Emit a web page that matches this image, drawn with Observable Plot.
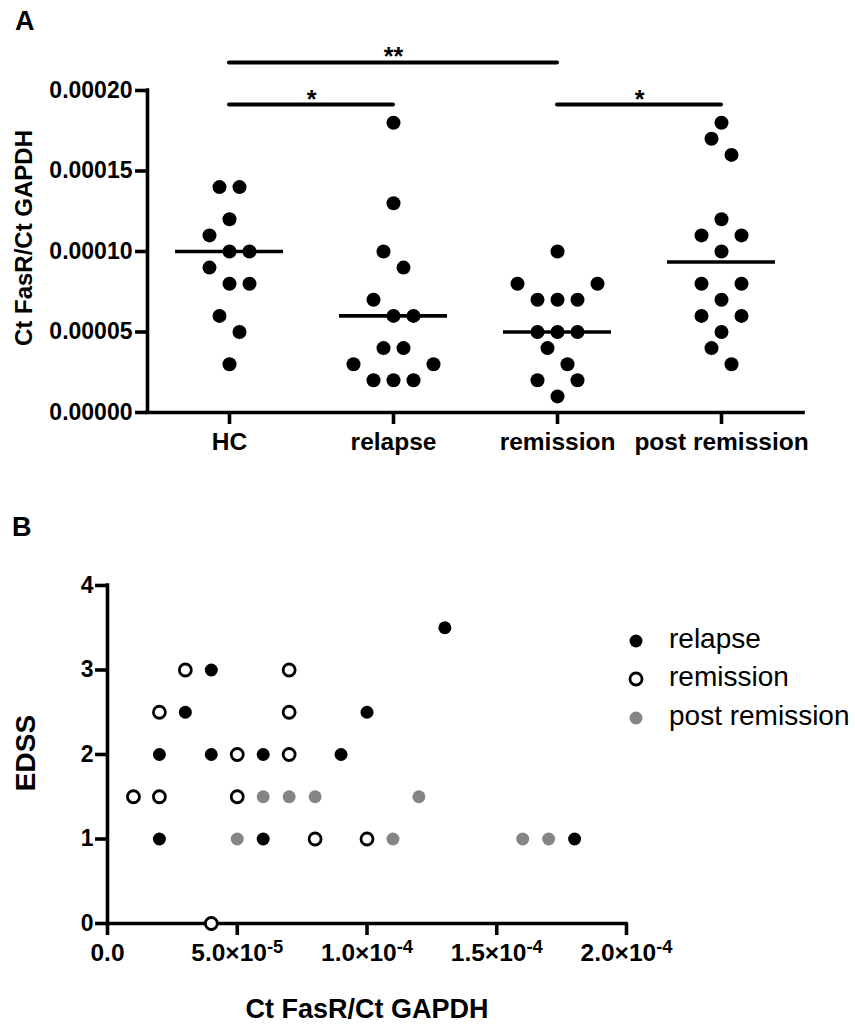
<!DOCTYPE html>
<html><head><meta charset="utf-8">
<script src="https://cdn.jsdelivr.net/npm/d3@7"></script>
<script src="https://cdn.jsdelivr.net/npm/@observablehq/plot@0.6"></script>
<style>
body{margin:0;background:#fff;}
#root{position:relative;width:855px;height:1031px;font-family:"Liberation Sans",Arial,Helvetica,sans-serif;color:#000;overflow:hidden;background:#fff}
.abs{position:absolute;line-height:1;white-space:nowrap}
.panel{position:absolute;left:0}
</style></head><body><div id="root"></div>
<script>
// ---------- Panel A data ----------
const groups = ["HC", "relapse", "remission", "post remission"];
const hcValues = [0.00014, 0.00014, 0.00012, 0.00011, 0.00010, 0.00010, 0.00009, 0.00008, 0.00008, 0.00006, 0.00005, 0.00003];
const relapseValues = [0.00018, 0.00013, 0.00010, 0.00009, 0.00007, 0.00006, 0.00006, 0.00004, 0.00004, 0.00003, 0.00003, 0.00002, 0.00002, 0.00002];
const remissionValues = [0.00010, 0.00008, 0.00008, 0.00007, 0.00007, 0.00007, 0.00005, 0.00005, 0.00005, 0.00004, 0.00003, 0.00002, 0.00002, 0.00001];
const postRemissionValues = [0.00018, 0.00017, 0.00016, 0.00012, 0.00011, 0.00011, 0.00010, 0.00008, 0.00008, 0.00007, 0.00006, 0.00006, 0.00005, 0.00004, 0.00003];
const groupLines = [0.00010, 0.00006, 0.00005, 0.0000935];
const yTicksA = [0, 0.00005, 0.00010, 0.00015, 0.00020];
const comparisons = [
  {from: "HC", to: "remission", y: 0.0002174, label: "**"},
  {from: "HC", to: "relapse", y: 0.0001913, label: "*"},
  {from: "remission", to: "post remission", y: 0.0001913, label: "*"}
];

// ---------- Panel B data ----------
const edssSeries = ["relapse", "remission", "post remission"];
const relapseX = [0.00013, 0.00004, 0.00003, 0.00010, 0.00002, 0.00004, 0.00006, 0.00009, 0.00002, 0.00006, 0.00018];
const relapseY = [3.5, 3, 2.5, 2.5, 2, 2, 2, 2, 1, 1, 1];
const remissionX = [0.00003, 0.00007, 0.00002, 0.00007, 0.00005, 0.00007, 0.00001, 0.00002, 0.00005, 0.00008, 0.00010, 0.00004];
const remissionY = [3, 3, 2.5, 2.5, 2, 2, 1.5, 1.5, 1.5, 1, 1, 0];
const postX = [0.00006, 0.00007, 0.00008, 0.00012, 0.00005, 0.00011, 0.00016, 0.00017];
const postY = [1.5, 1.5, 1.5, 1.5, 1, 1, 1, 1];
const xTicksB = [0, 0.00005, 0.00010, 0.00015, 0.00020];
const yTicksB = [0, 1, 2, 3, 4];

// ---------- layout / style ----------
const FONT = '"Liberation Sans", Arial, Helvetica, sans-serif';
const W = 855;
const root = document.getElementById("root");
const LW = 3.6; // axis line width

// GraphPad-like scatter-dot arrangement: rows of nearby values, centred
function swarmSlots(values, rowSpan) {
  const idx = values.map((v, i) => i).sort((a, b) => values[a] - values[b]);
  const slots = new Array(values.length);
  let k = 0;
  while (k < idx.length) {
    const start = values[idx[k]];
    const row = [];
    while (k < idx.length && values[idx[k]] <= start + rowSpan + 1e-12) row.push(idx[k++]);
    const n = row.length;
    if (n % 2 === 1) {
      row.forEach((j, m) => { slots[j] = Math.ceil(m / 2) * (m % 2 ? 1 : -1); });
    } else {
      row.slice().reverse().forEach((j, m) => { slots[j] = m - (n - 1) / 2; });
    }
  }
  return slots;
}

// ---------- Panel A ----------
const mA = {left: 147, right: 52, top: 90, bottom: 68};
const hA = 480;
const stepA = (W - mA.left - mA.right) / groups.length;
const slotUnit = 20 / stepA;
const halfLine = 54 / stepA;
const seriesA = [hcValues, relapseValues, remissionValues, postRemissionValues];
const pointsA = seriesA.flatMap((vals, gi) => {
  const slots = swarmSlots(vals, 0.00001);
  return vals.map((v, j) => ({gi, value: v, pos: gi + slots[j] * slotUnit}));
});
const lineRows = groupLines.map((v, gi) => ({gi, value: v}));

const plotA = Plot.plot({
  width: W, height: hA,
  marginLeft: mA.left, marginRight: mA.right, marginTop: mA.top, marginBottom: mA.bottom,
  style: {fontFamily: FONT, fontSize: "23px", fontWeight: "bold", color: "#000", background: "transparent"},
  x: {type: "linear", domain: [-0.5, groups.length - 0.5]},
  y: {domain: [0, 0.0002]},
  marks: [
    Plot.axisY({ticks: yTicksA, tickFormat: d3.format(".5f"), tickSize: 12, tickPadding: 3, strokeWidth: LW, fontSize: 23, fontWeight: "bold", label: null}),
    Plot.axisX({ticks: groups.map((g, i) => i), tickFormat: i => groups[i], tickSize: 12, tickPadding: 8, strokeWidth: LW, fontSize: 24.5, fontWeight: "bold", label: null}),
    Plot.ruleX([-0.5], {strokeWidth: LW, strokeLinecap: "square"}),
    Plot.ruleY([0], {strokeWidth: LW, strokeLinecap: "square"}),
    Plot.ruleY(lineRows, {y: "value", x1: d => d.gi - halfLine, x2: d => d.gi + halfLine, strokeWidth: 3.6}),
    Plot.dot(pointsA, {x: "pos", y: "value", r: 7, fill: "#000", stroke: "none"}),
    Plot.ruleY(comparisons, {y: "y", x1: d => groups.indexOf(d.from), x2: d => groups.indexOf(d.to), strokeWidth: 4, strokeLinecap: "round"}),
    Plot.text(comparisons, {x: d => (groups.indexOf(d.from) + groups.indexOf(d.to)) / 2, y: "y", text: "label", dy: -5, fontSize: 25, fontWeight: "bold"})
  ]
});
plotA.classList.add("panel");
plotA.style.top = "0px";
root.appendChild(plotA);

// ---------- Panel B ----------
const topB = 500;
const hB = 531;
const pointsB = [
  ...relapseX.map((x, i) => ({series: edssSeries[0], x, y: relapseY[i]})),
  ...remissionX.map((x, i) => ({series: edssSeries[1], x, y: remissionY[i]})),
  ...postX.map((x, i) => ({series: edssSeries[2], x, y: postY[i]}))
];
function sciFormat(d) {
  if (d === 0) return "0.0";
  const [m, e] = d.toExponential(1).split("e");
  return m + "\u00d710^" + (+e);
}
const plotB = Plot.plot({
  width: W, height: hB,
  marginLeft: 107, marginRight: 229, marginTop: 85, marginBottom: 108,
  style: {fontFamily: FONT, fontSize: "23px", fontWeight: "bold", color: "#000", background: "transparent", overflow: "visible"},
  x: {domain: [0, 0.0002]},
  y: {domain: [0, 4]},
  marks: [
    Plot.axisY({ticks: yTicksB, tickFormat: d3.format("d"), tickSize: 12, tickPadding: 2, strokeWidth: LW, fontSize: 23, fontWeight: "bold", label: null}),
    Plot.axisX({ticks: xTicksB, tickFormat: sciFormat, tickSize: 12, tickPadding: 8, strokeWidth: LW, fontSize: 24.5, fontWeight: "bold", label: null}),
    Plot.ruleX([0], {strokeWidth: LW, strokeLinecap: "square"}),
    Plot.ruleY([0], {strokeWidth: LW, strokeLinecap: "square"}),
    Plot.dot(pointsB.filter(d => d.series === "relapse"), {x: "x", y: "y", r: 6.5, fill: "#000", stroke: "none"}),
    Plot.dot(pointsB.filter(d => d.series === "remission"), {x: "x", y: "y", r: 6, fill: "#fff", stroke: "#000", strokeWidth: 2.8}),
    Plot.dot(pointsB.filter(d => d.series === "post remission"), {x: "x", y: "y", r: 6.5, fill: "#858585", stroke: "none"})
  ]
});
plotB.classList.add("panel");
plotB.style.top = topB + "px";
root.appendChild(plotB);
// superscript exponents
plotB.querySelectorAll("text").forEach(t => {
  const s = t.textContent;
  const k = s.indexOf("^");
  if (k < 0) return;
  t.textContent = s.slice(0, k);
  const sup = document.createElementNS("http://www.w3.org/2000/svg", "tspan");
  sup.setAttribute("dy", "-0.45em");
  sup.setAttribute("font-size", "0.75em");
  sup.textContent = s.slice(k + 1);
  t.appendChild(sup);
});

// ---------- HTML labels ----------
function label(text, css) {
  const d = document.createElement("div");
  d.className = "abs";
  d.textContent = text;
  Object.assign(d.style, css);
  root.appendChild(d);
  return d;
}
label("A", {left: "15px", top: "8px", fontSize: "27px", fontWeight: "bold"});
label("B", {left: "12px", top: "514px", fontSize: "27px", fontWeight: "bold"});
label("Ct FasR/Ct GAPDH", {left: "24px", top: "238px", fontSize: "24px", fontWeight: "bold", transform: "translate(-50%,-50%) rotate(-90deg)"});
label("EDSS", {left: "26px", top: "753px", fontSize: "28px", fontWeight: "bold", transform: "translate(-50%,-50%) rotate(-90deg)"});
label("Ct FasR/Ct GAPDH", {left: "367px", top: "1009px", fontSize: "27px", fontWeight: "bold", transform: "translate(-50%,-50%)"});

// legend
const legendStyles = [
  {fill: "#000", stroke: "none", sw: 0, r: 6.5},
  {fill: "#fff", stroke: "#000", sw: 2.8, r: 6},
  {fill: "#858585", stroke: "none", sw: 0, r: 6.5}
];
const legendRows = [641, 679, 718];
const legendFont = 28;
edssSeries.forEach((name, i) => {
  const s = legendStyles[i];
  const svg = document.createElementNS("http://www.w3.org/2000/svg", "svg");
  svg.setAttribute("width", 20); svg.setAttribute("height", 20);
  svg.style.position = "absolute";
  svg.style.left = (636 - 10) + "px";
  svg.style.top = (legendRows[i] - 10) + "px";
  const c = document.createElementNS("http://www.w3.org/2000/svg", "circle");
  c.setAttribute("cx", 10); c.setAttribute("cy", 10); c.setAttribute("r", s.r);
  c.setAttribute("fill", s.fill); c.setAttribute("stroke", s.stroke); c.setAttribute("stroke-width", s.sw);
  svg.appendChild(c);
  root.appendChild(svg);
  label(name, {left: "669px", top: (legendRows[i] + 7.5 - 0.8465 * legendFont) + "px", fontSize: legendFont + "px", fontWeight: "normal"});
});
</script></body></html>
